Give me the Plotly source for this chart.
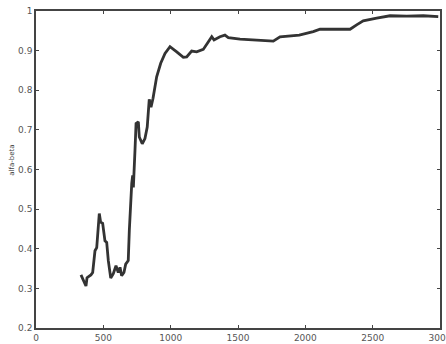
import plotly.graph_objects as go

iterations = [334, 371, 379, 408, 421, 438, 451, 470, 480, 495, 512, 525, 537, 555, 574, 594,
              611, 624, 636, 653, 666, 685, 693, 703, 711, 718, 723, 735, 743, 760, 767, 789,
              809, 826, 841, 854, 869, 896, 926, 958, 995, 1045, 1094, 1119, 1156, 1193, 1242,
              1279, 1305, 1322, 1366, 1403, 1428, 1515, 1614, 1688, 1762, 1812, 1862, 1955,
              2059, 2109, 2208, 2332, 2381, 2430, 2530, 2629, 2753, 2876, 2987]
alfa_beta = [0.334, 0.306, 0.327, 0.334, 0.340, 0.395, 0.403, 0.489, 0.467, 0.464, 0.420, 0.416,
             0.370, 0.326, 0.337, 0.357, 0.340, 0.353, 0.332, 0.340, 0.361, 0.370, 0.446, 0.522,
             0.565, 0.585, 0.555, 0.648, 0.716, 0.720, 0.682, 0.665, 0.678, 0.707, 0.777, 0.757,
             0.780, 0.834, 0.868, 0.893, 0.910, 0.897, 0.883, 0.884, 0.899, 0.897, 0.903, 0.922,
             0.935, 0.927, 0.935, 0.939, 0.933, 0.929, 0.927, 0.925, 0.924, 0.935, 0.937, 0.939,
             0.948, 0.954, 0.954, 0.954, 0.965, 0.975, 0.982, 0.988, 0.987, 0.988, 0.986]

x_ticks = [0, 500, 1000, 1500, 2000, 2500, 3000]
y_ticks = [0.2, 0.3, 0.4, 0.5, 0.6, 0.7, 0.8, 0.9, 1]
y_title = "alfa-beta"

fig = go.Figure()
fig.add_trace(go.Scatter(x=iterations, y=alfa_beta, mode="lines",
                         line=dict(color="#333333", width=2.8)))

axis_common = dict(showgrid=False, zeroline=False, showline=True, linecolor="#444",
                   linewidth=1.5, mirror="ticks", ticks="inside", ticklen=3,
                   tickcolor="#444", ticklabeloverflow="allow", automargin=False,
                   tickfont=dict(family="DejaVu Sans", size=9, color="#555"))
fig.update_xaxes(range=[0, 3000], tickvals=x_ticks, **axis_common)
fig.update_yaxes(range=[0.2, 1], tickvals=y_ticks, **axis_common)

fig.add_annotation(text=y_title, xref="paper", yref="paper", x=-0.045, y=0.53,
                   xanchor="right", textangle=-90, showarrow=False,
                   font=dict(family="DejaVu Sans", size=7, color="#444"))

fig.update_layout(width=446, height=344, margin=dict(l=36, r=6, t=11, b=16, autoexpand=False),
                  paper_bgcolor="white", plot_bgcolor="white", showlegend=False)
fig.write_html("out.html")
